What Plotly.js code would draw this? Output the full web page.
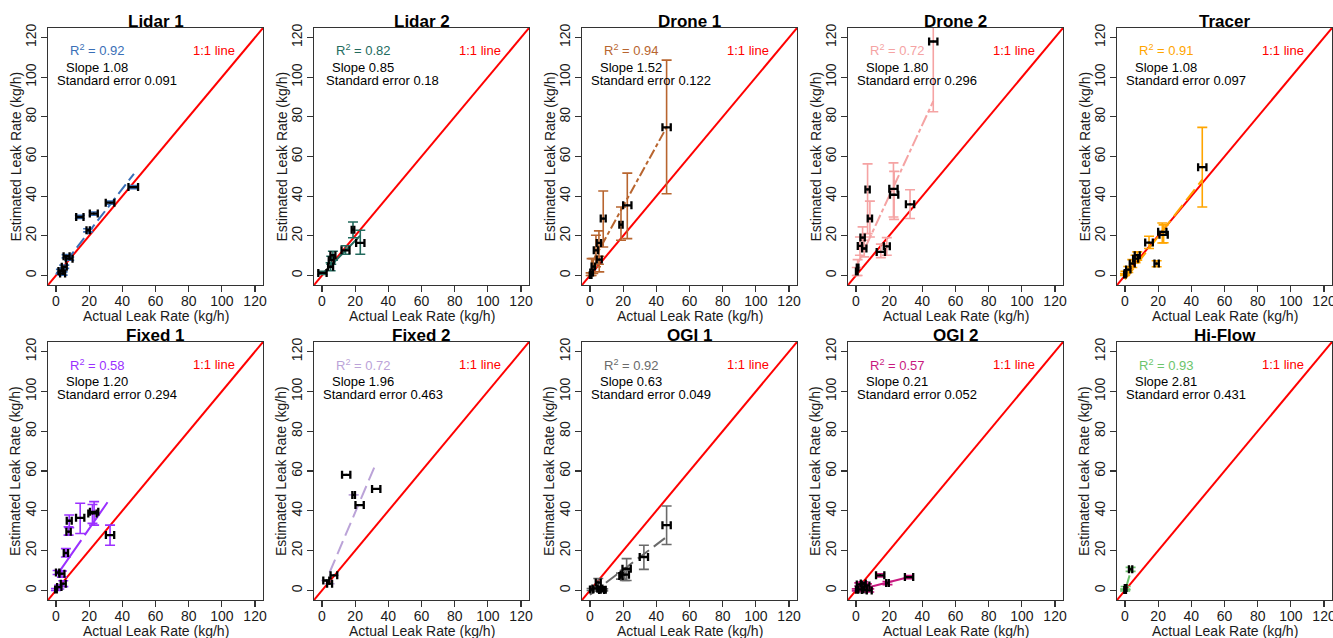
<!DOCTYPE html>
<html>
<head>
<meta charset="utf-8">
<script src="https://cdn.plot.ly/plotly-3.0.1.min.js"></script>
<style>html,body{margin:0;padding:0;background:#fff;}#chart{width:1333px;height:638px;}</style>
</head>
<body>
<div id="chart"></div>
<script>
// ---------- Data ----------
const panelNames = ["Lidar 1","Lidar 2","Drone 1","Drone 2","Tracer","Fixed 1","Fixed 2","OGI 1","OGI 2","Hi-Flow"];
const panelColors = ["#3A6FB7","#236B5E","#B8652F","#F5A3A3","#FFA500","#9B30FF","#BBA3D8","#6A6A6A","#C8197F","#6CC46C"];
const r2Labels = ["0.92","0.82","0.94","0.72","0.91","0.58","0.72","0.92","0.57","0.93"];
const slopeLabels = ["1.08","0.85","1.52","1.80","1.08","1.20","1.96","0.63","0.21","2.81"];
const stdErrLabels = ["0.091","0.18","0.122","0.296","0.097","0.294","0.463","0.049","0.052","0.431"];
const fitSlopes = [1.08,0.85,1.52,1.80,1.08,1.20,1.96,0.63,0.21,2.81];
const fitIntercepts = [0.5,0.5,4.5,4.0,-2.0,7.0,0.0,-2.2,0.0,-0.3];
const fitXStart = [0,0,1,0.5,0,1.5,4.6,0,0,0.4];
const fitXEnd = [47,23,46.2,46.6,46.6,33,32.7,46.2,32,2.8];

// Actual (x) and estimated (y) leak rates with error bars, per panel
const lidar1X = [46.6,32.6,22.8,14.4,19.4,6.4,8.0,5.0,3.0,4.0];
const lidar1Y = [44.6,36.7,31.2,29.5,22.8,9.7,8.5,4.4,2.3,1.0];
const lidar1XErr = [2.9,2.6,2.4,2.2,1.0,1.8,2.0,1.5,1.5,1.5];
const lidar1YUp = [0.8,0.8,0.8,0.8,0.8,0.8,0.8,0.8,0.8,0.8];
const lidar1YDn = [0.8,0.8,0.8,0.8,0.8,0.8,0.8,0.8,0.8,0.8];

const lidar2X = [18.7,23.1,14.2,6.6,5.6,5.2,0.3];
const lidar2Y = [23.1,16.4,12.7,10.2,7.7,4.4,1.3];
const lidar2XErr = [0.8,2.5,2.4,1.5,1.5,1.5,2.5];
const lidar2YUp = [3.9,6.4,2.3,2.0,2.0,2.0,0.8];
const lidar2YDn = [4.1,5.7,2.0,2.5,2.0,2.0,0.8];

const drone1X = [46.2,22.5,18.7,8.0,5.4,3.6,5.6,2.0,1.0,0.4];
const drone1Y = [74.7,35.4,25.6,28.7,16.4,12.7,8.0,4.5,1.5,0.3];
const drone1XErr = [2.5,2.5,1.0,1.5,1.3,1.3,1.5,1.0,0.8,0.5];
const drone1YUp = [33.9,16.2,8.9,13.9,6.1,7.6,1.7,4.0,7.0,1.0];
const drone1YDn = [33.5,16.8,7.8,14.3,10.7,8.3,6.2,3.5,1.5,0.3];

const drone2X = [46.6,7.0,22.6,23.0,8.4,32.6,4.0,2.4,5.0,15.0,18.6,1.0,0.5];
const drone2Y = [118,43.4,43.7,40.7,28.7,35.9,19.1,14.9,13.6,11.9,14.7,4.0,2.0];
const drone2XErr = [2.5,1.3,2.5,2.5,1.3,2.5,1.3,1.3,1.3,2.5,1.8,0.5,0.5];
const drone2YUp = [35,12.9,13.1,11.8,8.8,7.3,5.4,4.5,4.2,3.9,4.4,4.0,2.0];
const drone2YDn = [35.4,22.3,14.2,12.4,9.3,7.2,4.7,4.7,4.2,2.9,4.5,4.0,2.0];

const tracerX = [46.6,22.5,23.3,14.5,19.1,7.4,6.4,4.4,2.0,0.3,0.0];
const tracerY = [54.6,22.0,20.5,16.6,6.0,10.2,8.5,6.0,3.0,1.3,0.5];
const tracerXErr = [2.5,2.5,2.5,2.3,1.3,1.5,1.5,1.5,1.3,0.5,0.5];
const tracerYUp = [20.1,4.5,5.0,3.2,1.4,1.7,1.7,2.0,1.5,0.8,0.5];
const tracerYDn = [20.1,5.6,4.0,3.0,1.6,2.5,2.0,2.0,1.5,0.8,0.5];

const fixed1X = [32.6,23.0,22.0,14.6,8.0,7.6,6.0,3.6,1.0,4.4,2.0,0.0];
const fixed1Y = [27.8,39.5,38.7,36.5,35.0,29.5,18.8,8.4,9.0,3.4,1.7,0.5];
const fixed1XErr = [2.5,2.5,2.5,2.5,1.5,1.3,1.3,1.5,1.0,1.5,1.3,0.5];
const fixed1YUp = [5.0,5.1,4.5,7.3,2.9,2.5,2.2,1.4,1.0,1.5,1.0,0.5];
const fixed1YDn = [5.1,6.7,5.0,7.9,3.5,1.7,2.0,1.7,1.0,1.5,1.0,0.5];

const fixed2X = [14.6,32.7,19.1,22.7,7.2,2.6,4.6];
const fixed2Y = [58.1,51.0,48.0,42.9,7.6,5.0,3.4];
const fixed2XErr = [2.5,2.5,0.8,2.5,2.0,1.8,1.5];
const fixed2YUp = [0,0,0,0,0,0,0];
const fixed2YDn = [0,0,0,0,0,0,0];

const ogi1X = [46.2,32.5,22.1,21.0,18.7,5.0,6.0,7.0,3.0,8.0,1.0];
const ogi1Y = [32.8,16.8,10.9,7.9,7.2,4.0,1.0,0.2,1.0,0.3,0.5];
const ogi1XErr = [2.5,2.5,2.5,2.5,1.0,1.5,1.5,1.5,1.5,1.5,1.0];
const ogi1YUp = [9.6,5.9,5.1,2.2,1.5,2.0,1.0,0.5,1.0,0.5,0.5];
const ogi1YDn = [9.7,6.2,5.9,2.9,1.5,2.0,1.0,0.5,1.0,0.5,0.5];

const ogi2X = [32.0,14.6,19.0,2.0,4.4,6.6,5.0,8.0,3.0,0.5];
const ogi2Y = [6.7,7.6,3.7,3.0,3.5,2.5,0.2,0.0,0.5,0.3];
const ogi2XErr = [2.5,2.5,0.8,1.5,1.5,1.5,1.5,1.5,1.5,0.5];
const ogi2YUp = [0.8,0.8,0.8,0.8,0.8,0.8,0.8,0.8,0.8,0.5];
const ogi2YDn = [0.8,0.8,0.8,0.8,0.8,0.8,0.8,0.8,0.8,0.5];

const hiflowX = [3.4,0.4,0.1];
const hiflowY = [10.6,1.2,0.2];
const hiflowXErr = [1.0,0.5,0.5];
const hiflowYUp = [1.0,0.8,0.5];
const hiflowYDn = [1.0,0.8,0.5];

const tickValues = [0,20,40,60,80,100,120];
const xAxisTitle = "Actual Leak Rate (kg/h)";
const yAxisTitle = "Estimated Leak Rate (kg/h)";

// ---------- Build ----------
const panelX = [lidar1X,lidar2X,drone1X,drone2X,tracerX,fixed1X,fixed2X,ogi1X,ogi2X,hiflowX];
const panelY = [lidar1Y,lidar2Y,drone1Y,drone2Y,tracerY,fixed1Y,fixed2Y,ogi1Y,ogi2Y,hiflowY];
const panelXErr = [lidar1XErr,lidar2XErr,drone1XErr,drone2XErr,tracerXErr,fixed1XErr,fixed2XErr,ogi1XErr,ogi2XErr,hiflowXErr];
const panelYUp = [lidar1YUp,lidar2YUp,drone1YUp,drone2YUp,tracerYUp,fixed1YUp,fixed2YUp,ogi1YUp,ogi2YUp,hiflowYUp];
const panelYDn = [lidar1YDn,lidar2YDn,drone1YDn,drone2YDn,tracerYDn,fixed1YDn,fixed2YDn,ogi1YDn,ogi2YDn,hiflowYDn];
const fitDash = ["12px,5px","solid","10px,3px,4px,3px","12px,3px,4px,3px","14px,6px","40px,6px","14px,6px","14px,6px","solid","solid"];

const W = 1333, H = 638;
const colLeft = [48, 314, 582, 848, 1117];
const boxW = 215;
const rowTop = [28, 342], rowBot = [285, 600];
const axRange = [-4.8, 124.8];
const FONT = "Liberation Sans, Arial, sans-serif";

const traces = [];
const layout = {
  width: W, height: H, margin: {l:0, r:0, t:0, b:0},
  paper_bgcolor: "#fff", plot_bgcolor: "#fff", showlegend: false,
  font: {family: FONT, size: 13, color: "#222"},
  annotations: []
};

for (let i = 0; i < 10; i++) {
  const col = i % 5, row = Math.floor(i / 5);
  const id = i === 0 ? "" : String(i + 1);
  const xa = "x" + id, ya = "y" + id;
  const x0 = colLeft[col], x1 = x0 + boxW;
  const y0 = rowTop[row], y1 = rowBot[row];
  const axCommon = {
    range: axRange, tickvals: tickValues, ticks: "outside", ticklen: 6, tickwidth: 1.2,
    tickcolor: "#333", showline: true, mirror: true, linecolor: "#333", linewidth: 1.3,
    showgrid: false, zeroline: false, tickfont: {family: FONT, size: 14, color: "#1a1a1a"},
    ticklabeloverflow: "allow", fixedrange: true
  };
  layout["xaxis" + id] = Object.assign({}, axCommon, {domain: [x0 / W, x1 / W], anchor: ya, ticklabelstandoff: -3});
  layout["yaxis" + id] = Object.assign({}, axCommon, {domain: [1 - y1 / H, 1 - y0 / H], anchor: xa, tickangle: -90, ticklabelstandoff: -1});

  // 1:1 line
  traces.push({x: [axRange[0] - 5, axRange[1] + 5], y: [axRange[0] - 5, axRange[1] + 5],
    xaxis: xa, yaxis: ya, mode: "lines", line: {color: "#FF0000", width: 2}, hoverinfo: "skip"});
  // regression line
  const fx = [fitXStart[i], fitXEnd[i]];
  traces.push({x: fx, y: fx.map(v => fitIntercepts[i] + fitSlopes[i] * v),
    xaxis: xa, yaxis: ya, mode: "lines", line: {color: panelColors[i], width: 2, dash: fitDash[i]}, hoverinfo: "skip"});
  // vertical (estimate) error bars
  traces.push({x: panelX[i], y: panelY[i], xaxis: xa, yaxis: ya, mode: "markers",
    marker: {size: 1, color: panelColors[i], opacity: 0},
    error_y: {type: "data", symmetric: false, array: panelYUp[i], arrayminus: panelYDn[i],
      color: panelColors[i], thickness: 1.6, width: 5}, hoverinfo: "skip"});
  // horizontal (actual) error bars
  traces.push({x: panelX[i], y: panelY[i], xaxis: xa, yaxis: ya, mode: "markers",
    marker: {size: 2, color: "#000"},
    error_x: {type: "data", array: panelXErr[i], color: "#000", thickness: 2.3, width: 4}, hoverinfo: "skip"});

  // texts
  const A = layout.annotations;
  A.push({xref: xa, yref: ya, x: 25, y: 113.5, text: "R<sup>2</sup> = " + r2Labels[i], showarrow: false,
    font: {family: FONT, size: 13, color: panelColors[i]}, xanchor: "center", yanchor: "middle"});
  A.push({xref: xa, yref: ya, x: 95, y: 113.5, text: "1:1 line", showarrow: false,
    font: {family: FONT, size: 13, color: "#FF0000"}, xanchor: "center", yanchor: "middle"});
  A.push({xref: xa, yref: ya, x: 25, y: 105, text: "Slope " + slopeLabels[i], showarrow: false,
    font: {family: FONT, size: 13, color: "#000"}, xanchor: "center", yanchor: "middle"});
  A.push({xref: xa, yref: ya, x: 36.5, y: 98.3, text: "Standard error " + stdErrLabels[i], showarrow: false,
    font: {family: FONT, size: 13, color: "#000"}, xanchor: "center", yanchor: "middle"});
  // panel title
  A.push({xref: "paper", yref: "paper", x: (x0 + boxW / 2) / W, y: 1 - (y0 - 7) / H,
    text: "<b>" + panelNames[i] + "</b>", showarrow: false,
    font: {family: FONT, size: 17, color: "#000"}, xanchor: "center", yanchor: "middle"});
  // axis titles
  A.push({xref: "paper", yref: "paper", x: (x0 + boxW / 2) / W, y: 1 - (y1 + 31) / H,
    text: xAxisTitle, showarrow: false, font: {family: FONT, size: 14, color: "#1a1a1a"},
    xanchor: "center", yanchor: "middle"});
  A.push({xref: "paper", yref: "paper", x: (x0 - 33) / W, y: 1 - ((y0 + y1) / 2) / H,
    text: yAxisTitle, textangle: -90, showarrow: false, font: {family: FONT, size: 14, color: "#1a1a1a"},
    xanchor: "center", yanchor: "middle"});
}

Plotly.newPlot("chart", traces, layout, {staticPlot: true, displayModeBar: false});
</script>
</body>
</html>
